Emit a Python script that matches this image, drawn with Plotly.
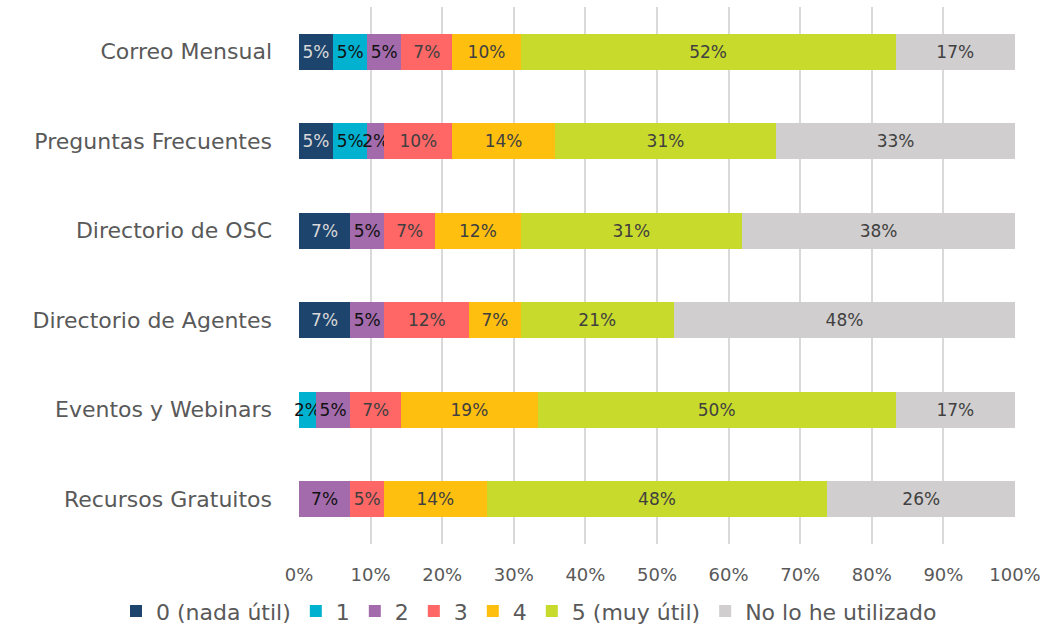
import plotly.graph_objects as go

categories = ["Correo Mensual", "Preguntas Frecuentes", "Directorio de OSC",
              "Directorio de Agentes", "Eventos y Webinars", "Recursos Gratuitos"]

series_names = ["0 (nada útil)", "1", "2", "3", "4", "5 (muy útil)", "No lo he utilizado"]

s0 = [4.76, 4.76, 7.14, 7.14, 0.0, 0.0]
s1 = [4.76, 4.76, 0.0, 0.0, 2.38, 0.0]
s2 = [4.76, 2.38, 4.76, 4.76, 4.76, 7.14]
s3 = [7.14, 9.52, 7.14, 11.90, 7.14, 4.76]
s4 = [9.52, 14.29, 11.90, 7.14, 19.05, 14.29]
s5 = [52.38, 30.95, 30.95, 21.43, 50.00, 47.62]
s6 = [16.67, 33.33, 38.10, 47.62, 16.67, 26.19]

series_values = [s0, s1, s2, s3, s4, s5, s6]
colors = ["#1D446C", "#00B2CF", "#A36BAB", "#FF6666", "#FFBF0F", "#C8DA2B", "#D0CECE"]
text_colors = ["#D9D9D9", "#111111", "#111111", "#404040", "#404040", "#404040", "#404040"]

x_ticks = [0, 10, 20, 30, 40, 50, 60, 70, 80, 90, 100]
x_tick_labels = [f"{t}%" for t in x_ticks]

FONT = "DejaVu Sans"

fig = go.Figure()
for name, vals, col, tcol in zip(series_names, series_values, colors, text_colors):
    fig.add_trace(go.Bar(
        y=categories, x=vals, name=name, orientation="h",
        marker=dict(color=col, line=dict(width=0)),
        text=[f"{round(v)}%" if v > 0 else "" for v in vals],
        textposition="inside", insidetextanchor="middle", textangle=0,
        constraintext="none",
        textfont=dict(color=tcol, size=17, family=FONT),
        cliponaxis=False,
        hoverinfo="x+y+name",
    ))

fig.update_layout(
    barmode="stack",
    bargap=0.6,
    width=1058, height=627,
    margin=dict(l=299, r=43, t=7, b=83, autoexpand=False),
    paper_bgcolor="white", plot_bgcolor="white",
    font=dict(family=FONT, color="#595959"),
    xaxis=dict(range=[0, 100], tickvals=x_ticks, ticktext=x_tick_labels,
               showgrid=True, gridcolor="#D9D9D9", gridwidth=1.5, zeroline=False,
               tickfont=dict(size=18, color="#595959", family=FONT), showline=False,
               ticks="", ticklabelstandoff=18, automargin=False),
    yaxis=dict(autorange="reversed", tickfont=dict(size=22, color="#595959", family=FONT),
               ticks="", showline=False, ticklabelstandoff=26, automargin=False),
    legend=dict(orientation="h", x=-0.2556, xanchor="left",
                y=-0.125, yanchor="middle", bgcolor="rgba(0,0,0,0)",
                font=dict(size=22, color="#595959", family=FONT), traceorder="normal",
                itemwidth=30, tracegroupgap=0),
)

fig.write_html("out.html", config={"displayModeBar": False},
               post_script="document.body.style.margin='0';document.body.style.overflow='hidden';")
